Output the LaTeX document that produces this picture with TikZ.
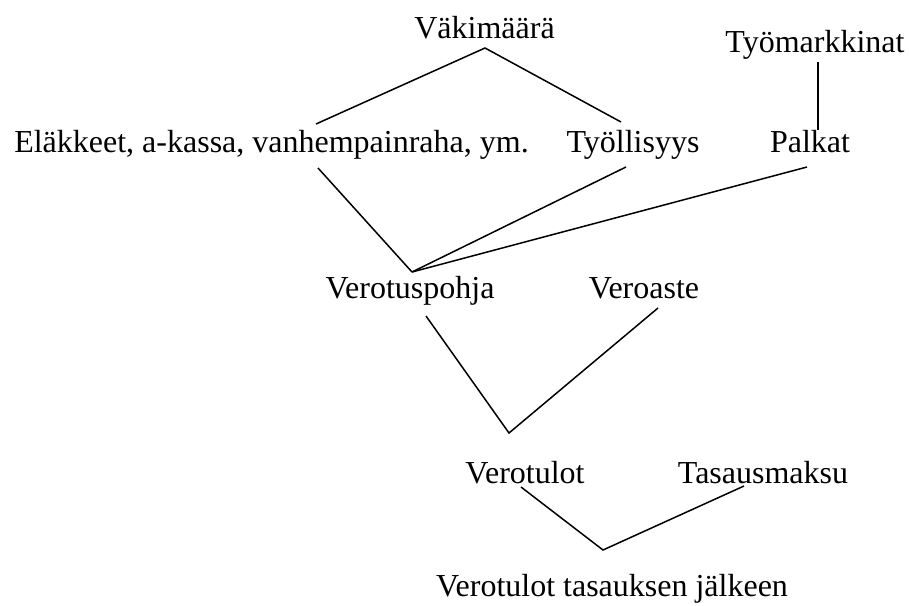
\documentclass[tikz,border=0pt]{standalone}
\usepackage{fontspec}
\setmainfont{Liberation Serif}
\begin{document}
\begin{tikzpicture}[x=1pt,y=-1pt,
  lbl/.style={anchor=base,inner sep=0pt,font=\fontsize{32}{38}\selectfont},
  conn/.style={line width=1.5pt}]
\useasboundingbox[fill=white] (0,0) rectangle (909,605);
% nodes
\node[lbl] (vaki) at (484.5,38) {Väkimäärä};
\node[lbl] (tyom) at (815,52) {Työmarkkinat};
\node[lbl] (elak) at (271.5,152) {Eläkkeet, a-kassa, vanhempainraha, ym.};
\node[lbl] (tyol) at (633,152) {Työllisyys};
\node[lbl] (palk) at (810,152) {Palkat};
\node[lbl] (vpoh) at (410,298) {Verotuspohja};
\node[lbl] (vast) at (644,298) {Veroaste};
\node[lbl] (vtul) at (525,483) {Verotulot};
\node[lbl] (tasm) at (763,483) {Tasausmaksu};
\node[lbl] (vtj) at (612,596) {Verotulot tasauksen jälkeen};
% connector end points
\coordinate (vaki-s) at (485,48);
\coordinate (elak-n) at (316,124);
\coordinate (elak-s) at (318,168);
\coordinate (tyol-n) at (621,122);
\coordinate (tyol-s) at (626,167);
\coordinate (tyom-s) at (818,62);
\coordinate (palk-n) at (818,130);
\coordinate (palk-s) at (807,167);
\coordinate (vpoh-n) at (412,272);
\coordinate (vpoh-s) at (426,316);
\coordinate (vast-s) at (658,308);
\coordinate (vtul-n) at (509,433);
\coordinate (vtul-s) at (521,487);
\coordinate (tasm-s) at (744,486);
\coordinate (vtj-n) at (603,550);
% connectors
\draw[conn] (elak-n) -- (vaki-s) -- (tyol-n);
\draw[conn] (tyom-s) -- (palk-n);
\draw[conn] (elak-s) -- (vpoh-n);
\draw[conn] (tyol-s) -- (vpoh-n);
\draw[conn] (palk-s) -- (vpoh-n);
\draw[conn] (vpoh-s) -- (vtul-n) -- (vast-s);
\draw[conn] (vtul-s) -- (vtj-n) -- (tasm-s);
\end{tikzpicture}
\end{document}
